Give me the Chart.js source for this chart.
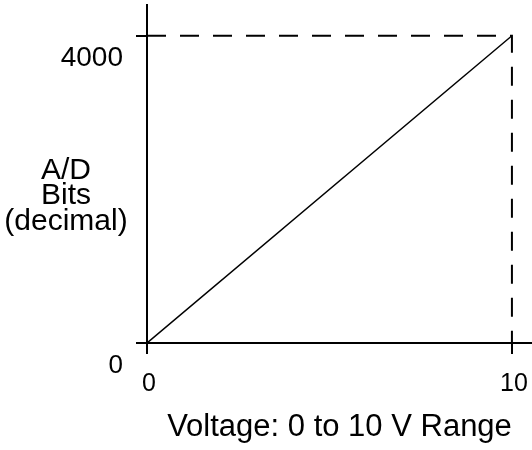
<!DOCTYPE html>
<html>
<head>
<meta charset="utf-8">
<script src="https://cdn.jsdelivr.net/npm/chart.js@4/dist/chart.umd.min.js"></script>
<style>
  html, body { margin: 0; padding: 0; background: #fff; }
  #chart { display: block; }
</style>
</head>
<body>
<canvas id="chart" width="532" height="450"></canvas>
<script>
// transfer line of the A/D converter
const voltage = [0, 10];
const adBits = [0, 4000];

// dashed guide from the full-scale count across and down to 10 V
const guideVoltage = [0, 10, 10];
const guideBits = [4000, 4000, 0];

const xTickValues = [0, 10];
const yTickValues = [0, 4000];
const xTitle = "Voltage: 0 to 10 V Range";
const yTitleLines = ["A/D", "Bits", "(decimal)"];

const FONT = "'Liberation Sans', Arial, sans-serif";

function toPoints(xs, ys) {
  return xs.map((x, i) => ({ x, y: ys[i] }));
}

// the axes butt against the canvas edge, so drop the label overhang padding
function noEdgePadding(scale) {
  scale.paddingTop = 0;
  scale.paddingBottom = 0;
  scale.paddingLeft = 0;
  scale.paddingRight = 0;
}

// horizontal, stacked y-axis title on the left
const sideTitle = {
  id: "sideTitle",
  afterDraw(chart) {
    const ctx = chart.ctx;
    ctx.save();
    ctx.fillStyle = "#000";
    ctx.font = `30px ${FONT}`;
    ctx.textAlign = "center";
    ctx.textBaseline = "alphabetic";
    const baselines = [179, 204, 230];
    yTitleLines.forEach((line, i) => ctx.fillText(line, 66, baselines[i]));
    ctx.restore();
  },
};

new Chart(document.getElementById("chart"), {
  type: "scatter",
  data: {
    datasets: [
      {
        data: toPoints(voltage, adBits),
        showLine: true,
        borderColor: "#000",
        borderWidth: 1.5,
        pointRadius: 0,
      },
      {
        data: toPoints(guideVoltage, guideBits),
        showLine: true,
        borderColor: "#000",
        borderWidth: 2,
        borderDash: [19, 14],
        pointRadius: 0,
      },
    ],
  },
  options: {
    responsive: false,
    animation: false,
    layout: { padding: { top: 5, right: 0, bottom: 0, left: 0 } },
    plugins: {
      legend: { display: false },
      tooltip: { enabled: false },
    },
    scales: {
      x: {
        type: "linear",
        min: 0,
        max: 10.55,
        afterBuildTicks: (scale) => {
          scale.ticks = xTickValues.map((value) => ({ value }));
        },
        afterFit: (scale) => {
          scale.height = 107;
          noEdgePadding(scale);
        },
        border: { display: true, color: "#000", width: 2 },
        grid: {
          drawOnChartArea: false,
          drawTicks: true,
          tickLength: 11,
          color: "#000",
          lineWidth: 2,
        },
        ticks: {
          color: "#000",
          font: { family: FONT, size: 25 },
          padding: 15,
          labelOffset: 2,
          maxRotation: 0,
          autoSkip: false,
          callback: (value) => String(value),
        },
        title: {
          display: true,
          text: xTitle,
          color: "#000",
          font: { family: FONT, size: 31 },
          padding: { top: 0, bottom: 4 },
        },
      },
      y: {
        type: "linear",
        min: 0,
        max: 4400,
        afterBuildTicks: (scale) => {
          scale.ticks = yTickValues.map((value) => ({ value }));
        },
        afterFit: (scale) => {
          scale.width = 147;
          noEdgePadding(scale);
        },
        border: { display: true, color: "#000", width: 2 },
        grid: {
          drawOnChartArea: false,
          drawTicks: true,
          tickLength: 11,
          color: "#000",
          lineWidth: 2,
        },
        ticks: {
          color: "#000",
          font: (ctx) => ({ family: FONT, size: ctx.tick && ctx.tick.value === 0 ? 26 : 28 }),
          padding: 13,
          labelOffset: 23,
          autoSkip: false,
          callback: (value) => String(value),
        },
      },
    },
  },
  plugins: [sideTitle],
});
</script>
</body>
</html>
